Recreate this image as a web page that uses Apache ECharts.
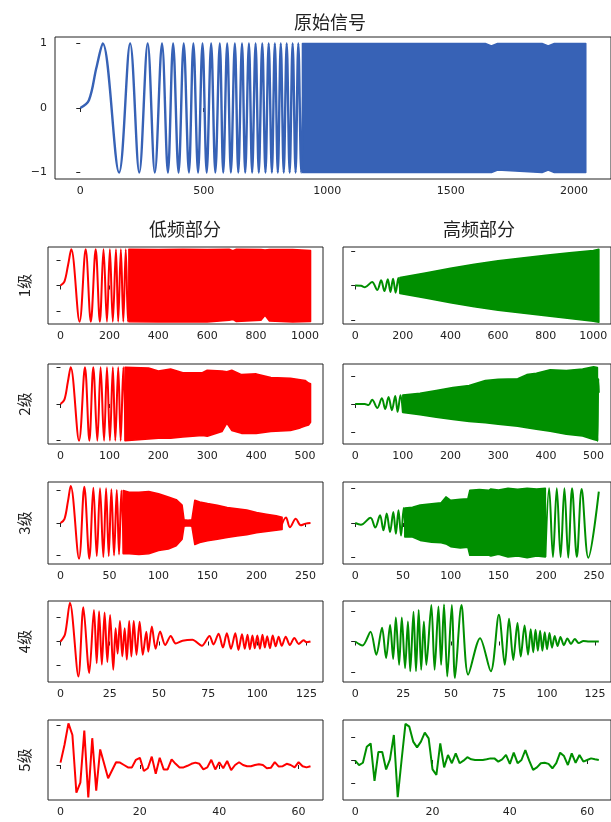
<!DOCTYPE html>
<html>
<head>
<meta charset="utf-8">
<script src="https://cdn.jsdelivr.net/npm/echarts@6/dist/echarts.min.js"></script>
<style>
html, body { margin: 0; padding: 0; background: #fff; }
#main { width: 611px; height: 822px; }
</style>
</head>
<body>
<div id="main"></div>
<script>
// ---- data ----
// original chirp: visible extrema, then the dense part as an envelope
var rawX = [0, 35, 65, 91, 157, 202, 239, 273, 302, 331, 355, 376, 398, 419, 440, 458, 477, 495, 512, 530, 547, 565, 579, 595, 610, 626, 640, 655, 668, 683, 696, 710, 723, 737, 750, 763, 776, 788, 800, 812, 824, 836, 848, 860, 872, 883, 895, 906];
var rawY = [0, 0.12, 0.62, 1, -1, 1, -1, 1, -1, 1, -1, 1, -1, 1, -1, 1, -1, 1, -1, 1, -1, 1, -1, 1, -1, 1, -1, 1, -1, 1, -1, 1, -1, 1, -1, 1, -1, 1, -1, 1, -1, 1, -1, 1, -1, 1, -1, 1];
var rawBandX = [900, 1300, 1640, 1665, 1690, 1870, 1895, 1920, 2047];
var rawBandHi = [1, 1, 1, 0.96, 1, 1, 0.96, 1, 1];
var rawBandLo = [-1, -1, -1, -1, -0.96, -1, -0.96, -1, -1];

// level 1
var l1X = [0, 16, 31, 44, 78, 103, 124, 144, 161, 176, 190, 202, 214, 227, 236, 247, 257, 267, 276, 285];
var l1Y = [0, 0.15, 0.8, 1.41, -1.41, 1.41, -1.41, 1.41, -1.41, 1.41, -1.41, 1.41, -1.41, 1.41, -1.41, 1.41, -1.41, 1.41, -1.41, 1.41];
var l1BandX = [280, 400, 500, 600, 690, 705, 720, 820, 837, 855, 950, 1023];
var l1BandHi = [1.41, 1.40, 1.41, 1.40, 1.41, 1.35, 1.41, 1.40, 1.38, 1.40, 1.40, 1.36];
var l1BandLo = [-1.41, -1.42, -1.42, -1.42, -1.35, -1.32, -1.40, -1.35, -1.16, -1.38, -1.42, -1.40];
var h1X = [0, 25, 41, 71, 93, 109, 123, 137, 148, 159, 170, 181, 190];
var h1Y = [0, -0.01, -0.05, 0.1, -0.13, 0.15, -0.16, 0.18, -0.19, 0.2, -0.21, 0.22, -0.23];
var h1BandX = [188, 300, 400, 500, 600, 700, 800, 900, 1000, 1023];
var h1BandHi = [0.23, 0.37, 0.5, 0.62, 0.72, 0.8, 0.88, 0.95, 1.02, 1.05];
var h1BandLo = [-0.23, -0.37, -0.5, -0.62, -0.72, -0.8, -0.88, -0.96, -1.04, -1.07];

// level 2
var l2X = [0, 8, 15, 20.8, 37.9, 50, 59, 67, 75.3, 82, 89, 95, 101, 107, 112, 118, 123, 128.5, 133];
var l2Y = [0, 0.12, 0.6, 1, -1, 1, -1, 1, -1, 1, -1, 1, -1, 1, -1, 1, -1, 1, -1];
var l2BandX = [132, 180, 200, 225, 250, 290, 300, 330, 340, 350, 370, 400, 430, 470, 490, 500, 507, 511];
var l2BandHi = [1.0, 0.98, 0.9, 0.95, 0.85, 0.85, 0.92, 0.9, 0.88, 0.92, 0.8, 0.82, 0.72, 0.7, 0.66, 0.64, 0.57, 0.55];
var l2BandLo = [-1.0, -0.95, -0.93, -0.93, -0.9, -0.86, -0.88, -0.75, -0.52, -0.72, -0.8, -0.8, -0.75, -0.72, -0.65, -0.6, -0.57, -0.5];
var h2X = [0, 20, 28, 35.6, 46.5, 56, 63, 70, 77, 84, 89, 95, 100];
var h2Y = [0, 0, -0.04, 0.15, -0.14, 0.21, -0.18, 0.25, -0.22, 0.29, -0.28, 0.31, -0.3];
var h2BandX = [100, 136, 170, 205, 239, 273, 300, 341, 360, 380, 409, 443, 477, 500, 508];
var h2BandHi = [0.32, 0.38, 0.48, 0.59, 0.66, 0.84, 0.88, 0.9, 1.05, 1.1, 1.22, 1.2, 1.25, 1.33, 1.3];
var h2BandLo = [-0.3, -0.38, -0.47, -0.55, -0.62, -0.67, -0.72, -0.79, -0.85, -0.9, -0.97, -1.08, -1.14, -1.27, -1.3];
var h2TailX = [506, 508, 510, 511];
var h2TailY = [1.3, -1.33, 0.9, 0.4];

// level 3
var l3X = [0, 4, 7.5, 10.4, 18.9, 24.3, 29.4, 33.5, 37, 40.3, 43.7, 46.5, 49.2, 51.9, 54.6, 57.4, 59.7, 62.1, 64.5];
var l3Y = [0, 0.12, 0.65, 1.14, -1.1, 1.12, -1.1, 1.09, -1.02, 1.07, -1.05, 1.07, -1.02, 1.04, -1.0, 1.02, -0.97, 1.0, -0.94];
var l3BandX = [64, 70, 80, 90, 100, 110, 118, 124, 126, 130, 134, 137, 142, 150, 160, 170, 180, 190, 200, 210, 220, 226];
var l3BandHi = [1.0, 0.95, 0.95, 0.97, 0.9, 0.8, 0.72, 0.55, 0.1, 0.08, 0.1, 0.7, 0.65, 0.6, 0.55, 0.48, 0.44, 0.4, 0.32, 0.27, 0.22, 0.18];
var l3BandLo = [-0.95, -0.95, -0.97, -0.95, -0.85, -0.8, -0.7, -0.5, -0.1, -0.08, -0.1, -0.66, -0.6, -0.55, -0.5, -0.45, -0.4, -0.36, -0.3, -0.26, -0.22, -0.2];
var l3TailX = [224, 230, 234, 240, 245, 250, 255];
var l3TailY = [-0.2, 0.17, -0.13, 0.13, -0.07, -0.02, 0];
var h3X = [0, 6, 16, 21, 26, 29.6, 33, 36.5, 39.9, 42.6, 45.3, 48, 50.8, 53];
var h3Y = [0, -0.05, 0.15, -0.13, 0.22, -0.21, 0.27, -0.26, 0.32, -0.31, 0.37, -0.36, 0.43, -0.4];
var h3BandX = [52, 60, 68, 80, 90, 95, 100, 110, 118, 120, 130, 140, 142, 150, 160, 170, 180, 190, 199];
var h3BandHi = [0.43, 0.45, 0.52, 0.55, 0.58, 0.75, 0.65, 0.68, 0.7, 0.94, 0.96, 0.94, 0.98, 0.95, 1.0, 0.97, 1.0, 0.98, 1.0];
var h3BandLo = [-0.4, -0.4, -0.5, -0.55, -0.57, -0.6, -0.68, -0.72, -0.7, -0.93, -0.93, -0.93, -0.95, -0.9, -0.98, -0.95, -1.0, -0.95, -0.98];
var h3TailX = [199, 203, 207, 211, 215, 219, 223, 227, 232, 237, 244, 255];
var h3TailY = [-0.98, 1.0, -0.98, 1.0, -0.98, 1.0, -1.0, 1.0, -0.98, 0.98, -1.0, 0.9];

// level 4
var l4X = [0, 2.3, 4.8, 9.1, 11.6, 14.6, 17, 18.4, 19.6, 21, 22.4, 23.8, 25.2, 26.8, 28, 29, 30.2, 31.4, 32.6, 33.7, 34.9, 36, 37.2, 38.6, 40.2, 41.8, 43.6, 44.6, 46.4, 48.3, 50.6, 53.2, 56, 58.5, 62, 67, 71.8, 75.7, 77.7, 80.3, 82.5, 84.5, 86.6, 88.8, 90.4, 92.2, 93.6, 95, 96.2, 97.5, 98.7, 100, 101.3, 102.6, 103.8, 105, 106.4, 107.8, 109.3, 110.8, 112.4, 114.4, 116.5, 118.8, 121, 123.5, 125, 127];
var l4Y = [0, 0.3, 1.61, -1.45, 1.42, -1.31, 1.31, -0.9, 1.25, -0.96, 1.2, -0.85, 1.1, -1.17, 0.55, -0.5, 0.85, -0.62, 0.55, -0.75, 0.85, -0.62, 0.85, -0.55, 0.82, -0.55, 0.4, -0.42, 0.62, -0.3, 0.41, -0.15, 0.23, -0.08, 0.03, 0.07, -0.18, 0.23, -0.12, 0.32, -0.25, 0.34, -0.3, 0.34, -0.35, 0.3, -0.3, 0.28, -0.32, 0.25, -0.28, 0.25, -0.3, 0.28, -0.25, 0.22, -0.28, 0.25, -0.2, 0.2, -0.18, 0.2, -0.15, 0.15, -0.1, 0.05, -0.03, 0];
var h4X = [0, 3.8, 8, 11, 14, 16.1, 18.2, 19.8, 21.2, 22.9, 24.3, 26, 27.5, 28.7, 30.4, 31.7, 33.1, 34.4, 35.8, 37.1, 39.7, 41.4, 43.4, 44.8, 46.3, 48, 50.4, 52, 55.4, 58.9, 65.1, 70.7, 74.9, 78, 80.2, 82.4, 84.6, 86.3, 88.3, 90.1, 91.5, 92.8, 94, 95.2, 96.4, 97.6, 98.8, 100, 101.3, 102.6, 104, 105.5, 107, 108.8, 110.6, 112.5, 114.5, 116.5, 119, 122, 127];
var h4Y = [0, -0.13, 0.32, -0.43, 0.45, -0.54, 0.54, -0.57, 0.78, -0.76, 0.78, -0.87, 0.65, -0.97, 0.97, -0.97, 1.03, -0.92, 0.65, -0.76, 1.19, -0.92, 1.14, -0.76, 1.21, -1.14, 1.19, -1.19, 1.19, -1.08, 0.11, -0.97, 0.87, -0.76, 0.74, -0.6, 0.6, -0.49, 0.52, -0.43, 0.4, -0.35, 0.38, -0.3, 0.35, -0.3, 0.3, -0.25, 0.28, -0.2, 0.18, -0.15, 0.15, -0.12, 0.1, -0.08, 0.08, -0.05, 0.02, 0, 0];

// level 5 (every sample visible)
var l5Y = [0.06, 0.5, 1.04, 0.75, -0.69, -0.44, 0.86, -0.81, 0.67, -0.64, 0.39, 0.03, -0.33, -0.13, 0.07, 0.06, 0, -0.06, -0.06, 0.13, 0.18, -0.15, -0.08, 0.21, -0.22, 0.18, -0.11, -0.11, 0.14, 0.03, -0.06, -0.06, -0.02, 0.03, 0.06, 0.03, -0.11, -0.06, 0.13, -0.11, 0.07, -0.08, 0.1, -0.13, 0, 0.07, 0, -0.03, -0.03, 0, 0.02, 0, -0.08, -0.07, 0.07, -0.04, -0.03, 0.03, 0, -0.06, 0.07, -0.03, -0.06, -0.03];
var h5Y = [-0.03, -0.22, -0.12, 0.58, 0.72, -0.91, 0.35, 0.35, -0.41, 0.03, 1.09, -1.62, 0, 1.57, 1.45, 0.8, 0.55, 0.8, 1.19, 0.94, -0.41, -0.65, 0.72, -0.32, 0.22, -0.14, 0.29, -0.14, -0.03, 0.12, 0.03, 0, 0, 0, 0.03, 0.07, 0.07, -0.07, 0.03, 0.22, -0.17, 0.32, -0.14, 0, 0.43, -0.03, -0.43, -0.32, -0.14, -0.12, -0.17, -0.36, -0.14, 0.32, 0.17, -0.22, 0.29, -0.12, 0.22, -0.07, 0, 0.07, 0.03, 0];

// tick values
var rawXTicks = [0, 500, 1000, 1500, 2000];
var rawYTicks = [-1, 0, 1];
var xTicks1 = [0, 200, 400, 600, 800, 1000];
var xTicks2 = [0, 100, 200, 300, 400, 500];
var xTicks3 = [0, 50, 100, 150, 200, 250];
var xTicks4 = [0, 25, 50, 75, 100, 125];
var xTicks5 = [0, 20, 40, 60];
var levelNames = ['1级', '2级', '3级', '4级', '5级'];

// ---- chart ----
var BLUE = '#3762b6', RED = '#ff0000', GREEN = '#008f00';
var grid = [], xAxis = [], yAxis = [], series = [];

function pts(xs, ys) {
    return xs.map(function (x, i) { return [x, ys[i]]; });
}
function idx(ys) {
    return ys.map(function (y, i) { return [i, y]; });
}
function plain(v) {
    return String(v).replace('-', '\u2212');
}

function addPanel(box, xr, xt, yr, yt, opts) {
    opts = opts || {};
    var i = grid.length;
    grid.push({
        left: box[0], top: box[1], width: box[2], height: box[3],
        show: true, borderColor: '#222', borderWidth: 1, backgroundColor: 'rgba(0,0,0,0)'
    });
    xAxis.push({
        gridIndex: i, type: 'value', min: xr[0], max: xr[1],
        axisLine: { show: false }, splitLine: { show: false },
        axisTick: { show: true, length: 4, customValues: xt, lineStyle: { color: '#222' } },
        axisLabel: { show: true, customValues: xt, margin: 7, fontFamily: 'DejaVu Sans', fontSize: 11, color: '#222', formatter: plain }
    });
    var ya = {
        gridIndex: i, type: 'value', min: yr[0], max: yr[1],
        axisLine: { show: false }, splitLine: { show: false },
        axisTick: { show: true, length: 4, customValues: yt, lineStyle: { color: '#222' } },
        axisLabel: { show: !!opts.yLabels, customValues: yt, margin: 8, fontFamily: 'DejaVu Sans', fontSize: 11, color: '#222', formatter: plain }
    };
    if (opts.name) {
        ya.name = opts.name;
        ya.nameLocation = 'middle';
        ya.nameRotate = 90;
        ya.nameGap = 16;
        ya.nameTextStyle = { fontFamily: 'Noto Sans CJK SC', fontSize: 15, color: '#222' };
    }
    yAxis.push(ya);
    return i;
}

function addLine(i, data, color, smooth, width) {
    series.push({
        type: 'line', xAxisIndex: i, yAxisIndex: i, data: data, symbol: 'none',
        smooth: smooth, lineStyle: { color: color, width: width || 2 },
        animation: false, silent: true, z: 3
    });
}
// dense part: one filled polygon between the upper and the lower envelope
function addBand(i, xs, hi, lo, color) {
    series.push({
        type: 'custom', xAxisIndex: i, yAxisIndex: i,
        data: xs.map(function (x, k) { return [x, hi[k], lo[k]]; }),
        encode: { x: 0, y: [1, 2] },
        animation: false, silent: true, z: 2,
        renderItem: function (params, api) {
            if (params.dataIndex !== 0) return;
            var upper = xs.map(function (x, k) { return api.coord([x, hi[k]]); });
            var lower = xs.map(function (x, k) { return api.coord([x, lo[k]]); }).reverse();
            return {
                type: 'polygon',
                shape: { points: upper.concat(lower) },
                style: { fill: color, stroke: color, lineWidth: 1.6, lineJoin: 'round' }
            };
        }
    });
}

// top panel
var g = addPanel([55, 37, 558, 142], [-102.35, 2149.35], rawXTicks, [-1.1, 1.1], rawYTicks, { yLabels: true });
addLine(g, pts(rawX, rawY), BLUE, 0.35, 2.4);
addBand(g, rawBandX, rawBandHi, rawBandLo, BLUE);

var rowTop = [247, 364, 482, 601, 720];
var rowH = [77, 80, 82, 81, 80];
var LX = 48, RX = 343, W = 275;

// level 1
g = addPanel([LX, rowTop[0], W, rowH[0]], [-51.15, 1074.15], xTicks1, [-1.5, 1.5], [-1, 0, 1], { name: levelNames[0] });
addLine(g, pts(l1X, l1Y), RED, 0.35);
addBand(g, l1BandX, l1BandHi, l1BandLo, RED);
g = addPanel([RX, rowTop[0], W, rowH[0]], [-51.15, 1074.15], xTicks1, [-1.12, 1.12], [-1, 0, 1]);
addLine(g, pts(h1X, h1Y), GREEN, 0.35);
addBand(g, h1BandX, h1BandHi, h1BandLo, GREEN);

// level 2
g = addPanel([LX, rowTop[1], W, rowH[1]], [-25.55, 536.55], xTicks2, [-1.09, 1.09], [-1, 0, 1], { name: levelNames[1] });
addLine(g, pts(l2X, l2Y), RED, 0.35);
addBand(g, l2BandX, l2BandHi, l2BandLo, RED);
g = addPanel([RX, rowTop[1], W, rowH[1]], [-25.55, 536.55], xTicks2, [-1.43, 1.43], [-1, 0, 1]);
addLine(g, pts(h2X, h2Y), GREEN, 0.35);
addBand(g, h2BandX, h2BandHi, h2BandLo, GREEN);
addLine(g, pts(h2TailX, h2TailY), GREEN, 0.35);

// level 3
g = addPanel([LX, rowTop[2], W, rowH[2]], [-12.75, 267.75], xTicks3, [-1.265, 1.265], [-1, 0, 1], { name: levelNames[2] });
addLine(g, pts(l3X, l3Y), RED, 0.35);
addBand(g, l3BandX, l3BandHi, l3BandLo, RED);
addLine(g, pts(l3TailX, l3TailY), RED, 0.35);
g = addPanel([RX, rowTop[2], W, rowH[2]], [-12.75, 267.75], xTicks3, [-1.18, 1.18], [-1, 0, 1]);
addLine(g, pts(h3X, h3Y), GREEN, 0.35);
addBand(g, h3BandX, h3BandHi, h3BandLo, GREEN);
addLine(g, pts(h3TailX, h3TailY), GREEN, 0.35);

// level 4
g = addPanel([LX, rowTop[3], W, rowH[3]], [-6.35, 133.35], xTicks4, [-1.68, 1.68], [-1, 0, 1], { name: levelNames[3] });
addLine(g, pts(l4X, l4Y), RED, 0.3);
g = addPanel([RX, rowTop[3], W, rowH[3]], [-6.35, 133.35], xTicks4, [-1.32, 1.32], [-1, 0, 1]);
addLine(g, pts(h4X, h4Y), GREEN, 0.3);

// level 5
g = addPanel([LX, rowTop[4], W, rowH[4]], [-3.15, 66.15], xTicks5, [-0.875, 1.125], [0, 1], { name: levelNames[4] });
addLine(g, idx(l5Y), RED, false);
g = addPanel([RX, rowTop[4], W, rowH[4]], [-3.15, 66.15], xTicks5, [-1.74, 1.74], [-1, 0, 1]);
addLine(g, idx(h5Y), GREEN, false);

function label(text, x, y) {
    return {
        type: 'text', x: x, y: y, silent: true,
        style: { text: text, align: 'center', verticalAlign: 'middle', fontFamily: 'Noto Sans CJK SC', fontSize: 18, fill: '#222' }
    };
}

var chart = echarts.init(document.getElementById('main'));
chart.setOption({
    backgroundColor: '#fff',
    animation: false,
    grid: grid,
    xAxis: xAxis,
    yAxis: yAxis,
    series: series,
    graphic: [label('原始信号', 330, 22), label('低频部分', 185, 229), label('高频部分', 479, 229)]
});
</script>
</body>
</html>
